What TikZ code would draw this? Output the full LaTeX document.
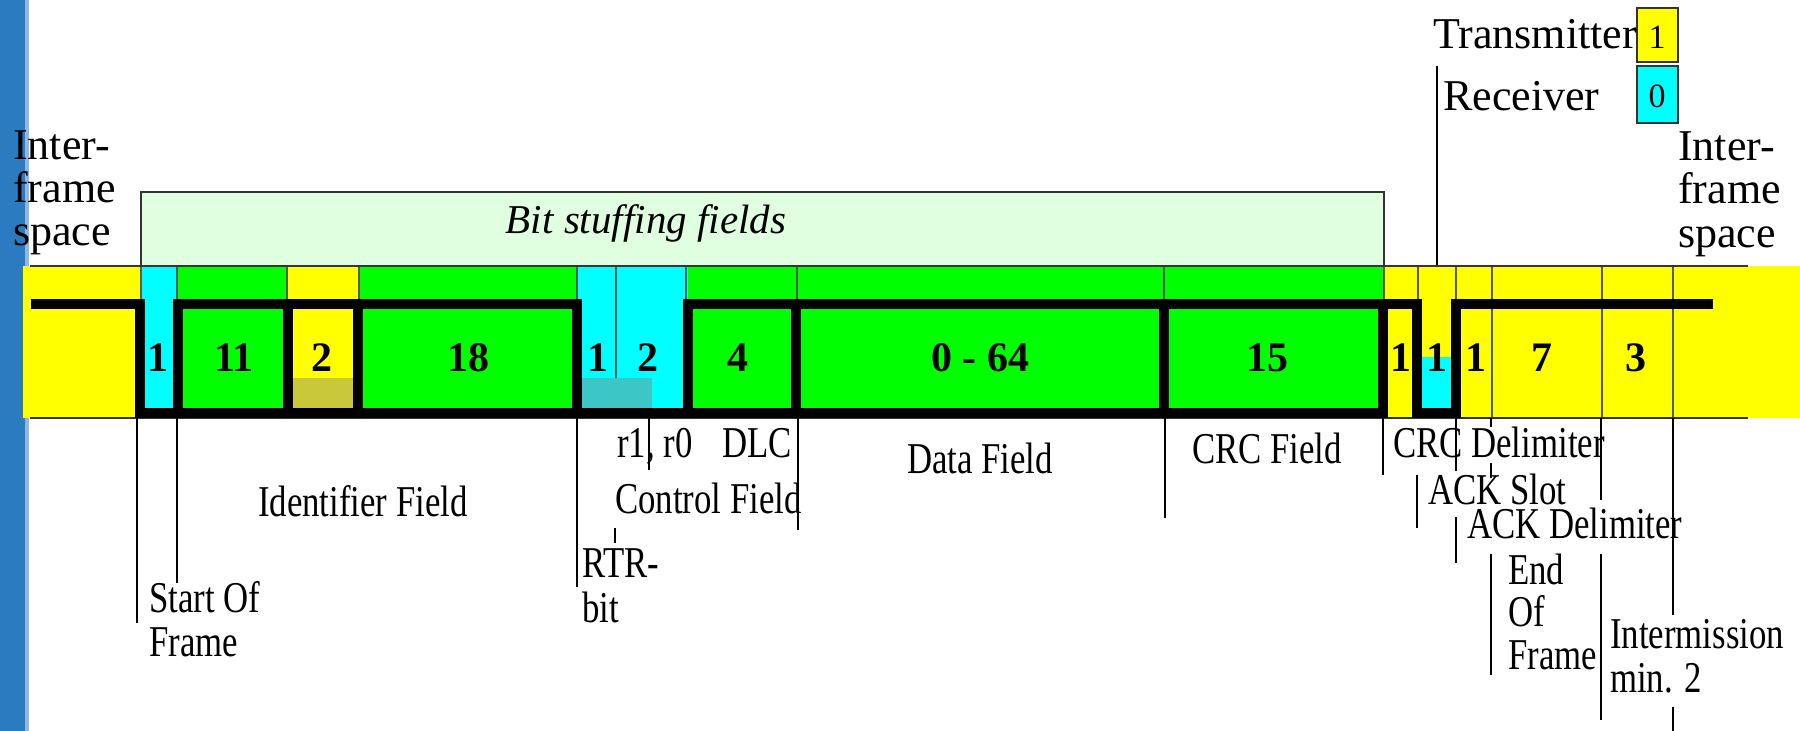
\documentclass[tikz,border=0pt]{standalone}
\usepackage{fontspec}
\setmainfont{Liberation Serif}
\newfontfamily\narrowfont[FakeStretch=0.79]{Liberation Serif}
\definecolor{cyel}{HTML}{FFFF00}
\definecolor{cgreen}{HTML}{00FF00}
\definecolor{ccyan}{HTML}{00FFFF}
\definecolor{colive}{HTML}{C9C83A}
\definecolor{cteal}{HTML}{3CC6C6}
\definecolor{lightgreen}{HTML}{E0FFE0}
\definecolor{barblue}{HTML}{2A7BC0}
\definecolor{barlight}{HTML}{8FB6E4}
\tikzset{
  lbl/.style={inner sep=0pt, anchor=base west, font=\narrowfont\fontsize{44}{44}\selectfont},
  plain/.style={inner sep=0pt, anchor=base west, font=\fontsize{44}{44}\selectfont},
  num/.style={inner sep=0pt, anchor=base, font=\bfseries\fontsize{42}{42}\selectfont},
  legnum/.style={inner sep=0pt, anchor=base, font=\fontsize{34}{34}\selectfont},
  tick/.style={line width=1.6pt, black},
  sig/.style={line width=10pt, line cap=rect, black},
  sepline/.style={line width=1.2pt, black!65},
  border/.style={line width=1.5pt, black!80},
}
\begin{document}
\begin{tikzpicture}[x=1pt,y=-1pt]
\useasboundingbox (0,0) rectangle (1800,731);
\fill[white] (0,0) rectangle (1800,731);
\fill[barblue] (0,0) rectangle (25,731);
\fill[barlight] (25,0) rectangle (29,731);
% colour band
\fill[cyel] (23,266) rectangle (1800,418);
\fill[ccyan] (140,266) rectangle (178,418);
\fill[cgreen] (178,266) rectangle (288,418);
\fill[cgreen] (358,266) rectangle (577,418);
\fill[ccyan] (577,266) rectangle (688,418);
\fill[cgreen] (688,266) rectangle (1384,418);
\fill[colive] (293,378) rectangle (353,408);
\fill[cteal] (581,378) rectangle (652,408);
\fill[ccyan] (1421,357) rectangle (1452,408);
% bit stuffing box
\draw[border, fill=lightgreen] (141,192) rectangle (1384,266);
\node[inner sep=0pt, anchor=base, font=\itshape\fontsize{41}{41}\selectfont] (bsf) at (646,233) {Bit stuffing fields};
% separators in the top row
\foreach \x in {141,177,287,359,577,686,797,1164,1384,1418,1456}
  \draw[sepline] (\x,266) -- (\x,299);
\draw[sepline] (616,266) -- (616,378);
\foreach \x in {1492,1602,1673}
  \draw[sepline] (\x,266) -- (\x,418);
% frame borders
\draw[border] (30,266) -- (1748,266);
\draw[border] (30,418) -- (1748,418);
% signal
\draw[sig] (36,304) -- (140,304) (178,304) -- (577,304) (688,304) -- (1417,304) (1456,304) -- (1708,304);
\draw[sig] (140,413) -- (1383,413) (1417,413) -- (1456,413);
\foreach \x in {140,178,288,358,577,688,796,1164,1383,1417,1456}
  \draw[sig] (\x,304) -- (\x,413);
% bit counts
\node[num] (n1) at (158,371) {1};
\node[num] (n2) at (234,371) {11};
\node[num] (n3) at (322,371) {2};
\node[num] (n4) at (468,371) {18};
\node[num] (n5) at (598,371) {1};
\node[num] (n6) at (648,371) {2};
\node[num] (n7) at (738,371) {4};
\node[num] (n8) at (980,371) {0 - 64};
\node[num] (n9) at (1267,371) {15};
\node[num] (n10) at (1401,371) {1};
\node[num] (n11) at (1437,371) {1};
\node[num] (n12) at (1476,371) {1};
\node[num] (n13) at (1542,371) {7};
\node[num] (n14) at (1636,371) {3};
% inter-frame space labels
\node[plain] (ifl1) at (13,159) {Inter-};
\node[plain] (ifl2) at (13,202) {frame};
\node[plain] (ifl3) at (13,245) {space};
\node[plain] (ifr1) at (1678,160) {Inter-};
\node[plain] (ifr2) at (1678,203) {frame};
\node[plain] (ifr3) at (1678,247) {space};
% legend
\draw[border, fill=cyel] (1637,8) rectangle (1678,62);
\draw[border, fill=ccyan] (1637,66) rectangle (1678,123);
\node[legnum] (l1) at (1657,48) {1};
\node[legnum] (l0) at (1657,107) {0};
\node[plain] (tx) at (1433,48) {Transmitter};
\node[plain] (rx) at (1443,110) {Receiver};
\draw[tick] (1437,66) -- (1437,265);
% pointer lines
\draw[tick] (137,418) -- (137,623);
\draw[tick] (177,418) -- (177,583);
\draw[tick] (577,418) -- (577,587);
\draw[tick] (615,528) -- (615,543);
\draw[tick] (649,418) -- (649,470);
\draw[tick] (798,418) -- (798,530);
\draw[tick] (1165,418) -- (1165,518);
\draw[tick] (1383,418) -- (1383,475);
\draw[tick] (1417,475) -- (1417,528);
\draw[tick] (1456,418) -- (1456,471);
\draw[tick] (1456,517) -- (1456,563);
\draw[tick] (1491,418) -- (1491,427);
\draw[tick] (1491,463) -- (1491,478);
\draw[tick] (1491,554) -- (1491,675);
\draw[tick] (1601,418) -- (1601,500);
\draw[tick] (1601,554) -- (1601,720);
\draw[tick] (1673,418) -- (1673,615);
\draw[tick] (1673,707) -- (1673,731);
% field labels
\node[lbl] (sof1) at (149,612) {Start Of};
\node[lbl] (sof2) at (149,656) {Frame};
\node[lbl] (idf) at (258,516) {Identifier Field};
\node[lbl] (rtr1) at (582,577) {RTR-};
\node[lbl] (rtr2) at (582,622) {bit};
\node[lbl] (r1r0) at (617,457) {r1, r0};
\node[lbl] (dlc) at (722,457) {DLC};
\node[lbl] (ctl) at (615,513) {Control Field};
\node[lbl, anchor=base] (data) at (980,473) {Data Field};
\node[lbl] (crcf) at (1192,463) {CRC Field};
\node[lbl] (crcd) at (1393,457) {CRC Delimiter};
\node[lbl] (acks) at (1428,504) {ACK Slot};
\node[lbl] (ackd) at (1467,538) {ACK Delimiter};
\node[lbl] (eof1) at (1508,584) {End};
\node[lbl] (eof2) at (1508,626) {Of};
\node[lbl] (eof3) at (1508,669) {Frame};
\node[lbl] (im1) at (1610,648) {Intermission};
\node[lbl] (im2) at (1610,692) {min. 2};
\end{tikzpicture}
\end{document}
